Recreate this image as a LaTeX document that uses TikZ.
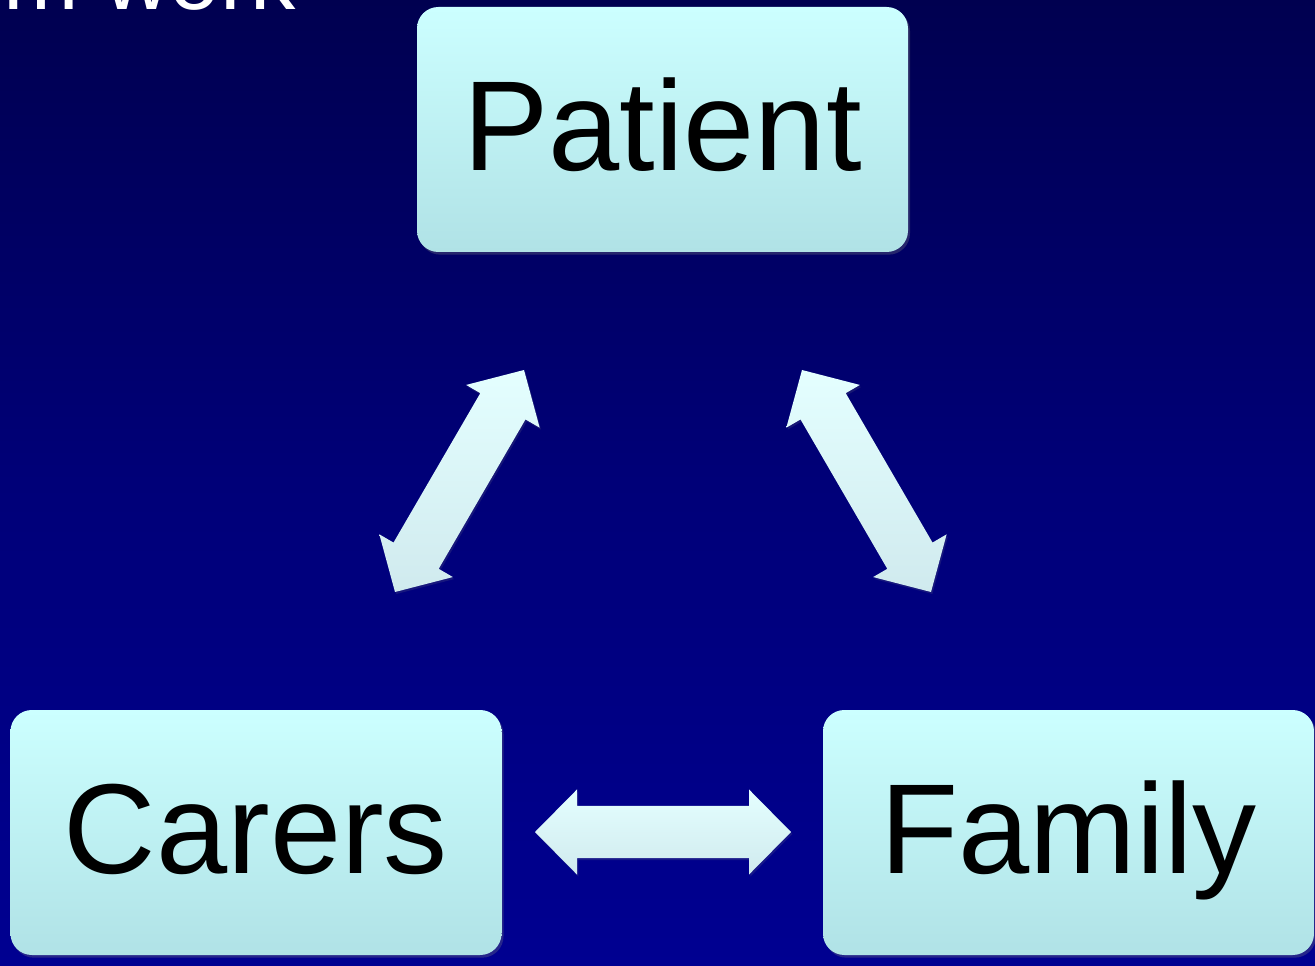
\documentclass[tikz,border=0pt]{standalone}
\usepackage{fontspec}
\setmainfont{Liberation Sans}
\usetikzlibrary{calc,shadows}
\definecolor{bgtop}{RGB}{0,0,80}
\definecolor{bgmid}{RGB}{0,0,120}
\definecolor{bgbot}{RGB}{0,0,145}
\definecolor{boxtop}{RGB}{204,255,255}
\definecolor{boxbot}{RGB}{176,226,230}
\definecolor{arrtop}{RGB}{228,255,255}
\definecolor{arrbot}{RGB}{208,234,238}
\newcommand\dblarrow[2]{%
  \coordinate (#1h) at ($(#1)!31.5pt!(#2)$);
  \coordinate (#2h) at ($(#2)!31.5pt!(#1)$);
  \path[blockarrow] (#1) -- ($(#1h)!31.9pt!90:(#1)$) -- ($(#1h)!19.6pt!90:(#1)$)
    -- ($(#2h)!19.6pt!-90:(#2)$) -- ($(#2h)!31.9pt!-90:(#2)$) -- (#2)
    -- ($(#2h)!31.9pt!90:(#2)$) -- ($(#2h)!19.6pt!90:(#2)$)
    -- ($(#1h)!19.6pt!-90:(#1)$) -- ($(#1h)!31.9pt!-90:(#1)$) -- cycle;}
\begin{document}
\begin{tikzpicture}[x=0.75pt,y=-0.75pt,
  rolebox/.style={rectangle, rounded corners=16pt, minimum width=368.25pt,
    minimum height=183.75pt, inner sep=0pt, top color=boxtop, bottom color=boxbot,
    draw=none, font=\fontsize{96}{96}\selectfont, text=black,
    text height=61pt, text depth=0pt,
    drop shadow={opacity=0.3, shadow xshift=1.5pt, shadow yshift=-2pt}},
  blockarrow/.style={top color=arrtop, bottom color=arrbot,
    drop shadow={opacity=0.18, shadow xshift=1pt, shadow yshift=-1.5pt}}]
  % background
  \path[use as bounding box, top color=bgtop, bottom color=bgbot, middle color=bgmid]
    (0,0) rectangle (1315,966);
  % partial title
  \node[anchor=base east, inner sep=0pt, text=white, font=\fontsize{68}{68}\selectfont]
    (title) at (296,10) {m work};
  % boxes
  \node[rolebox] (patient) at (662.5,129.5) {Patient};
  \node[rolebox] (carers)  at (256,832.5) {Carers};
  \node[rolebox] (family)  at (1068.5,832.5) {Family};
  % arrow end points
  \coordinate (lt) at (524,370);
  \coordinate (lb) at (395,592);
  \coordinate (rt) at (802,370);
  \coordinate (rb) at (931,592);
  \coordinate (hl) at (535,832);
  \coordinate (hr) at (791,832);
  \dblarrow{lt}{lb}
  \dblarrow{rt}{rb}
  \dblarrow{hl}{hr}
\end{tikzpicture}
\end{document}
